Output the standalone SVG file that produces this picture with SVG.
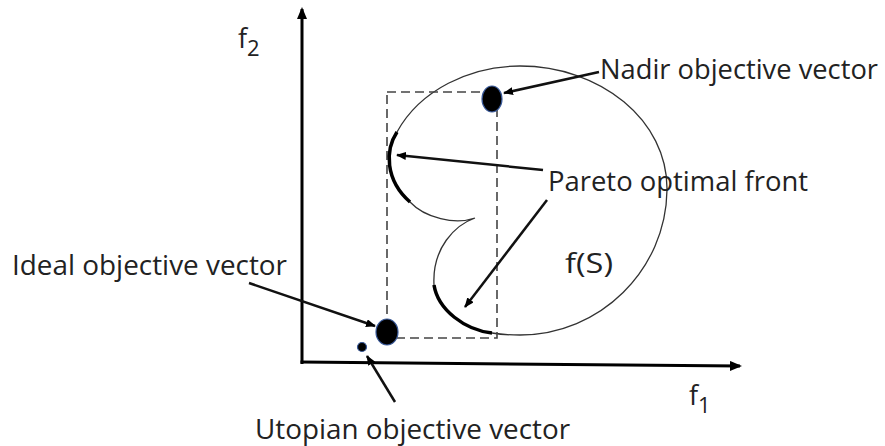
<svg xmlns="http://www.w3.org/2000/svg" width="885" height="446" viewBox="0 0 885 446">
<defs>
<marker id="ah" viewBox="0 0 10 8" refX="9" refY="4" markerWidth="10" markerHeight="8" markerUnits="userSpaceOnUse" orient="auto">
<path d="M0,0 L10,4 L0,8 Z" fill="#000"/>
</marker>
<marker id="axh" viewBox="0 0 12 10" refX="10" refY="5" markerWidth="12" markerHeight="10" markerUnits="userSpaceOnUse" orient="auto">
<path d="M0,0 L12,5 L0,10 Z" fill="#000"/>
</marker>
</defs>
<style>
.t{font-family:"Open Sans","Noto Sans",sans-serif;font-size:27px;fill:#222}
.ax{stroke:#000;stroke-width:3;fill:none}
.con{stroke:#111;stroke-width:2.5;fill:none;marker-end:url(#ah)}
.dot{fill:#000;stroke:#3a5a9a;stroke-width:1.2}
</style>
<rect width="885" height="446" fill="#fff"/>
<g id="axes">
<line class="ax" x1="302" y1="364" x2="302" y2="9" marker-end="url(#axh)"/>
<line class="ax" x1="300.5" y1="362" x2="740" y2="366" marker-end="url(#axh)"/>
<text class="t" x="238" y="48" font-size="33">f<tspan font-size="22" dy="8">2</tspan></text>
<text class="t" x="689" y="405" font-size="34">f<tspan font-size="22" dy="8">1</tspan></text>
</g>
<g id="region">
<path d="M397 132 C420 90 470 66 520 66 C600 66 668 120 667 190 C666 270 600 335 520 335 C508 335 498 334 492 333 C465 330 438 310 434 285 C432 248 455 225 475 218 C455 225 425 218 410 202 C385 180 385 150 397 132 Z" fill="none" stroke="#333" stroke-width="1.3"/>
<text class="t" x="565" y="273" font-size="30" textLength="48" lengthAdjust="spacingAndGlyphs">f(S)</text>
</g>
<g id="box">
<rect x="387" y="92" width="110" height="246" fill="none" stroke="#444" stroke-width="1.6" stroke-dasharray="9 5"/>
</g>
<g id="pareto-front">
<path d="M397 132 C385 150 385 180 410 202" fill="none" stroke="#000" stroke-width="3.5"/>
<path d="M434 285 C438 310 465 330 492 333" fill="none" stroke="#000" stroke-width="3.5"/>
</g>
<g id="nadir">
<ellipse class="dot" cx="492" cy="99" rx="10" ry="13"/>
</g>
<g id="ideal">
<ellipse class="dot" cx="387" cy="332" rx="11" ry="13"/>
</g>
<g id="utopian">
<circle class="dot" cx="362" cy="347" r="4.5"/>
</g>
<g id="connectors">
<line class="con" x1="599" y1="72" x2="504" y2="93"/>
<line class="con" x1="543" y1="170" x2="397" y2="155"/>
<line class="con" x1="547" y1="200" x2="465" y2="307"/>
<line class="con" x1="249" y1="283" x2="375" y2="326"/>
<line class="con" x1="395" y1="402" x2="367" y2="356"/>
</g>
<g id="labels">
<text class="t" x="600" y="79" textLength="278" lengthAdjust="spacingAndGlyphs">Nadir objective vector</text>
<text class="t" x="548" y="191" textLength="260" lengthAdjust="spacingAndGlyphs">Pareto optimal front</text>
<text class="t" x="12" y="275" textLength="275" lengthAdjust="spacingAndGlyphs">Ideal objective vector</text>
<text class="t" x="255" y="439" textLength="315" lengthAdjust="spacingAndGlyphs">Utopian objective vector</text>
</g>
</svg>
